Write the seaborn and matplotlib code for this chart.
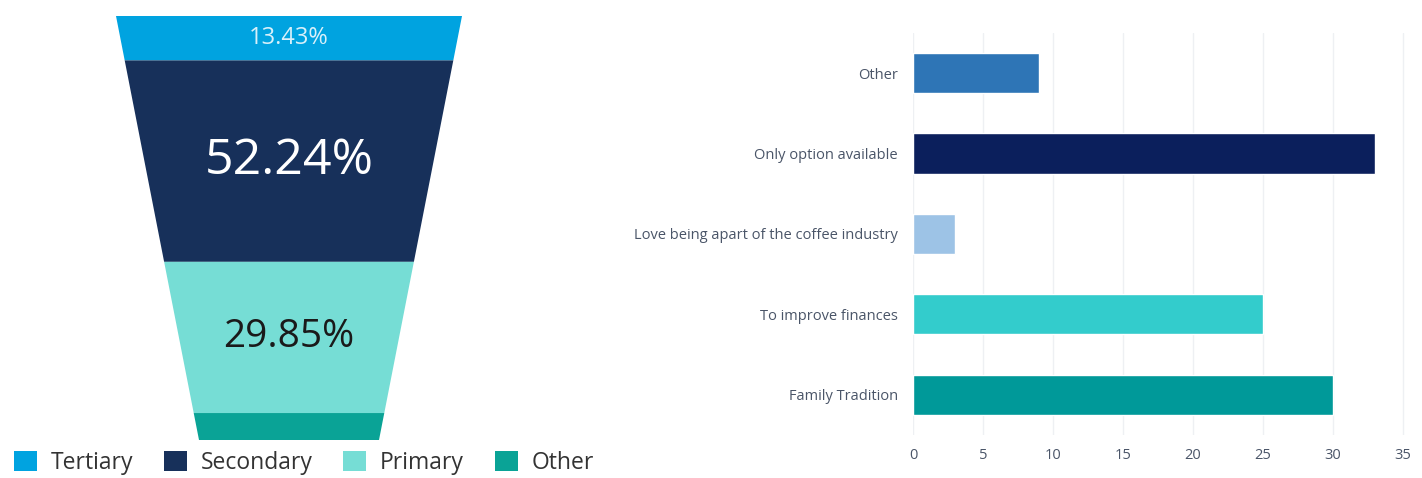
import numpy as np
import pandas as pd
import matplotlib.pyplot as plt
from matplotlib.patches import Polygon, Patch
import seaborn as sns

# funnel data (school level)
levels = ['Tertiary', 'Secondary', 'Primary', 'Other']
level_pct = [13.43, 52.24, 29.85, 4.48]
level_colors = ['#00a3e0', '#17305a', '#76ddd5', '#0aa396']

# reasons data
reasons = ['Other', 'Only option available', 'Love being apart of the coffee industry',
           'To improve finances', 'Family Tradition']
reason_counts = [9, 33, 3, 25, 30]
reason_colors = ['#2e75b6', '#0b1f5c', '#9dc3e6', '#33cccc', '#009999']

sns.set_theme(style='white')
plt.rcParams['font.family'] = ['Open Sans', 'DejaVu Sans']

fig = plt.figure(figsize=(14.22, 4.78), dpi=100)

# ---- funnel (area proportional) ----
ax0 = fig.add_axes([0, 0, 625 / 1422, 1])
ax0.set_xlim(0, 625)
ax0.set_ylim(478, 0)
ax0.axis('off')

top_y, bot_y, cx = 16, 440, 289
top_w, bot_w = 346, 180
H = bot_y - top_y
k = (top_w - bot_w) / H

def width_at(d):
    return top_w - k * d

def depth_for_area(a):
    # a = top_w*d - k*d^2/2
    return (top_w - np.sqrt(top_w ** 2 - 2 * k * a)) / k

total_area = (top_w + bot_w) / 2 * H
cum = np.cumsum([0] + level_pct) / np.sum(level_pct) * total_area
depths = [depth_for_area(a) for a in cum]

label_sizes = [17, 36, 28, None]
label_colors = ['#d8f0fa', 'white', '#1a1a1a', None]
for i, lvl in enumerate(levels):
    d0, d1 = depths[i], depths[i + 1]
    w0, w1 = width_at(d0), width_at(d1)
    pts = [(cx - w0 / 2, top_y + d0), (cx + w0 / 2, top_y + d0),
           (cx + w1 / 2, top_y + d1), (cx - w1 / 2, top_y + d1)]
    ax0.add_patch(Polygon(pts, closed=True, facecolor=level_colors[i], edgecolor='none'))
    if label_sizes[i]:
        ax0.text(cx, top_y + (d0 + d1) / 2, f'{level_pct[i]:.2f}%', ha='center', va='center',
                 fontsize=label_sizes[i], color=label_colors[i])

handles = [Patch(facecolor=c, edgecolor='none', label=l) for l, c in zip(levels, level_colors)]
ax0.legend(handles=handles, loc='lower left', bbox_to_anchor=(0.0, -0.022), ncol=4, frameon=False,
           fontsize=16.5, handlelength=1.0, handleheight=1.0, handletextpad=0.6, columnspacing=1.35,
           labelcolor='#333333', borderaxespad=0.2)

# ---- horizontal bars ----
ax1 = fig.add_axes([913 / 1422, 43 / 478, 497 / 1422, 402 / 478])
df = pd.DataFrame({'reason': reasons, 'count': reason_counts})
sns.barplot(data=df, y='reason', x='count', hue='reason', palette=reason_colors,
            order=reasons, legend=False, width=0.5, ax=ax1, saturation=1)
ax1.set_xlim(0, 35.5)
ax1.set_xticks(range(0, 36, 5))
ax1.set_xlabel('')
ax1.set_ylabel('')
ax1.grid(axis='x', color='#eef0f3', linewidth=1)
ax1.set_axisbelow(True)
for s in ax1.spines.values():
    s.set_visible(False)
ax1.tick_params(axis='both', length=0, labelsize=10.5, colors='#4a5568', pad=11)
ax1.tick_params(axis='x', pad=9.5)

fig.savefig('out.png', dpi=100)
